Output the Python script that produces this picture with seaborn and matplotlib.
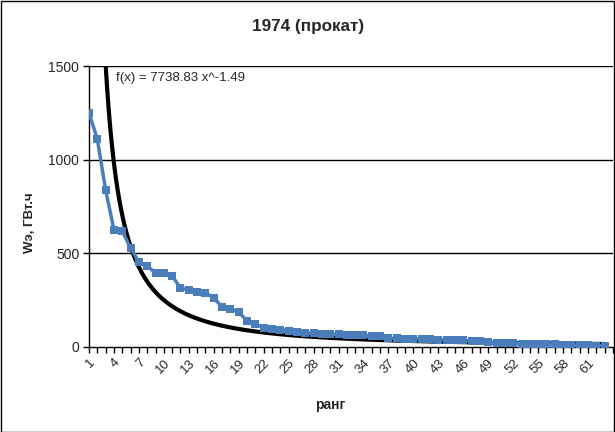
import numpy as np
import pandas as pd
import matplotlib
matplotlib.use("Agg")
import matplotlib.pyplot as plt
import seaborn as sns

sns.set_theme(style="white")
plt.rcParams['font.family'] = ['Liberation Sans', 'DejaVu Sans']

title = "1974 (прокат)"
x_label = "ранг"
y_label = "Wэ, ГВт.ч"
equation = "f(x) = 7738.83 x^-1.49"
fit_a = 7738.83
fit_b = -1.49

rank = list(range(1, 64))
energy = [1250, 1110, 838, 625, 619, 528, 454, 432, 395, 395,
          379, 315, 304, 294, 290, 262, 214, 203, 187, 139,
          123, 103, 98, 92, 88, 82, 76, 73, 72, 70,
          68, 66, 64, 62, 60, 58, 48, 46, 45, 44,
          43, 42, 40, 38, 36, 35, 33, 31, 28, 22,
          20, 19, 18, 17, 16, 15, 14, 13, 12, 11,
          10, 8, 4]
y_ticks = [0, 500, 1000, 1500]
x_tick_labels = list(range(1, 62, 3))

df = pd.DataFrame({"rank": rank, "energy": energy})

fig = plt.figure(figsize=(6.15, 4.32), dpi=100)
ax = fig.add_axes([89/615, 1-347/432, (613-89)/615, (347-66)/432])

# trendline
xs = np.linspace(1, 63, 600)
ys = fit_a * xs ** fit_b
fit_df = pd.DataFrame({"x": xs, "y": ys})
sns.lineplot(data=fit_df, x="x", y="y", ax=ax, color="black", lw=3, zorder=3)

sns.lineplot(data=df, x="rank", y="energy", ax=ax, color="#4a7ebb", lw=2.5,
             marker="s", markersize=5.5, markeredgewidth=0, zorder=4)

ax.set_xlim(1, 64)
ax.set_ylim(0, 1500)
ax.set_yticks(y_ticks)
ax.set_yticklabels([str(v) for v in y_ticks], fontsize=10)
ax.set_xticks(range(1, 65), minor=True)
ax.set_xticks(x_tick_labels)
ax.set_xticklabels([str(v) for v in x_tick_labels], rotation=45, ha="right",
                   rotation_mode="anchor", fontsize=9.5)
ax.tick_params(axis="x", which="both", bottom=True, length=4, width=1, color="black", pad=3)
ax.tick_params(axis="y", left=True, length=4, width=1, color="black", pad=3)

for v in y_ticks[1:]:
    ax.axhline(v, color="black", lw=1, zorder=1)
ax.grid(False)
for s in ["top", "right"]:
    ax.spines[s].set_visible(False)
for s in ["left", "bottom"]:
    ax.spines[s].set_color("black")
    ax.spines[s].set_linewidth(1)

ax.set_xlabel("")
ax.set_ylabel("")
fig.text(330/615, 1-405/432, x_label, fontsize=10, fontweight="bold", ha="center", va="center")
fig.text(30/615, 1-223/432, y_label, fontsize=9.5, fontweight="bold", ha="center", va="center", rotation=90)
fig.text(308/615, 1-26/432, title, fontsize=12.3, fontweight="bold", ha="center", va="center")
ax.text(4.3, 1436, equation, fontsize=9.5, ha="left", va="center")

fig.patches.append(plt.Rectangle((0.5/615, 0.5/432), 1-1.5/615, 1-1.5/432, transform=fig.transFigure,
                                 fill=False, edgecolor="black", lw=1))

fig.savefig("out.png", dpi=100)
